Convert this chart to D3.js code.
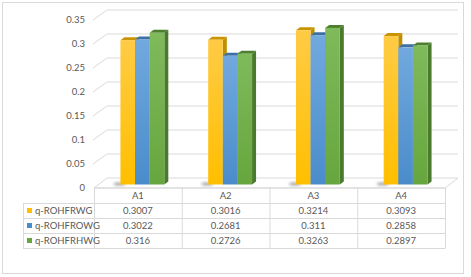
<!DOCTYPE html>
<html><head><meta charset="utf-8">
<script src="https://cdn.jsdelivr.net/npm/d3@7"></script>
<style>body{margin:0;background:#fff}svg{display:block}</style>
</head><body>
<script>
const categories = ["A1","A2","A3","A4"];
const seriesNames = ["q-ROHFRWG","q-ROHFROWG","q-ROHFRHWG"];
const valuesRWG  = [0.3007,0.3016,0.3214,0.3093];
const valuesROWG = [0.3022,0.2681,0.311,0.2858];
const valuesRHWG = [0.316,0.2726,0.3263,0.2897];
const yTicks = [0,0.05,0.1,0.15,0.2,0.25,0.3,0.35];
const yTickLabels = ["0","0.05","0.1","0.15","0.2","0.25","0.3","0.35"];
const seriesValues = [valuesRWG, valuesROWG, valuesRHWG];
const colors = [
  {top:"#FFCB45", bot:"#FFBF00", cap:"#C99400", side:"#C08F00"},
  {top:"#71A9DE", bot:"#4A8CCB", cap:"#3F70A5", side:"#3B6A9A"},
  {top:"#7FBA5B", bot:"#67A63E", cap:"#4E7F2F", side:"#4A7A2C"}
];

const W=471,H=277;
const svg=d3.select("body").append("svg").attr("width",W).attr("height",H);
const defs=svg.append("defs");
colors.forEach((c,i)=>{
  const g=defs.append("linearGradient").attr("id","g"+i).attr("x1",0).attr("y1",0).attr("x2",0).attr("y2",1);
  g.append("stop").attr("offset","0%").attr("stop-color",c.top);
  g.append("stop").attr("offset","100%").attr("stop-color",c.bot);
});
defs.append("filter").attr("id","blur").attr("x","-50%").attr("y","-50%").attr("width","200%").attr("height","200%")
  .append("feGaussianBlur").attr("stdDeviation",1.4);

// outer border
svg.append("rect").attr("x",2.5).attr("y",2.5).attr("width",461).attr("height",271)
  .attr("fill","#fff").attr("stroke","#d9d9d9");

const font="Lato, 'Open Sans', sans-serif";
const txt="#595959", grid="#d9d9d9";
const x0=94, x1=445, yFront=188, dX=13, dY=-10;
const y=d3.scaleLinear().domain([0,0.35]).range([yFront,20]);
const x=d3.scaleBand().domain(categories).range([x0,x1]).paddingInner(0).paddingOuter(0);

// floor
svg.append("path").attr("d",`M${x0},${yFront}L${x0+dX},${yFront+dY}L${x1+dX},${yFront+dY}L${x1},${yFront}Z`)
  .attr("fill","#fff").attr("stroke",grid);

// gridlines back wall + left wall
yTicks.forEach((t,i)=>{
  const yy=y(t);
  if(i>0){
    svg.append("line").attr("x1",x0+dX).attr("x2",x1+dX).attr("y1",yy+dY).attr("y2",yy+dY).attr("stroke",grid);
    svg.append("line").attr("x1",x0-1).attr("x2",x0+dX).attr("y1",yy).attr("y2",yy+dY).attr("stroke",grid);
  }
  svg.append("text").attr("x",85).attr("y",yy).attr("dy","0.35em").attr("text-anchor","end")
    .attr("font-family",font).attr("font-size",9.5).attr("fill",txt).text(yTickLabels[i]);
});

// bars
const bw = x.bandwidth()/6;
const fx=4.5, fy=-3.5, bdx=4, bdy=-3;
categories.forEach((cat,ci)=>{
  const gx=x(cat)+x.bandwidth()/2-1.5*bw+fx;
  const base=yFront+fy;
  // shadow
  svg.append("ellipse").attr("cx",gx-1).attr("cy",base-0.5).attr("rx",6).attr("ry",1.6)
    .attr("fill","#555").attr("opacity",0.55).attr("filter","url(#blur)");
  seriesValues.forEach((vals,si)=>{
    const v=vals[ci];
    const bx=gx+si*bw, top=y(v)+fy, h=base-top;
    const c=colors[si];
    svg.append("path").attr("d",`M${bx+bw},${top}L${bx+bw+bdx},${top+bdy}L${bx+bw+bdx},${base+bdy}L${bx+bw},${base}Z`).attr("fill",c.side);
    svg.append("path").attr("d",`M${bx},${top}L${bx+bdx},${top+bdy}L${bx+bw+bdx},${top+bdy}L${bx+bw},${top}Z`).attr("fill",c.cap);
    svg.append("rect").attr("x",bx).attr("y",top).attr("width",bw).attr("height",h).attr("fill",`url(#g${si})`);
  });
});

// data table
const rowY=[188,203,218,233,248];
const lx=23;
svg.append("line").attr("x1",x0).attr("x2",x1).attr("y1",188).attr("y2",188).attr("stroke",grid);
[203,218,233,248].forEach(yy=>svg.append("line").attr("x1",lx).attr("x2",x1).attr("y1",yy+0.5).attr("y2",yy+0.5).attr("stroke",grid));
svg.append("line").attr("x1",lx+0.5).attr("x2",lx+0.5).attr("y1",203).attr("y2",248.5).attr("stroke",grid);
[...categories.map(c=>x(c)),x1].forEach(xx=>svg.append("line").attr("x1",xx+0.5).attr("x2",xx+0.5).attr("y1",188).attr("y2",248.5).attr("stroke",grid));
categories.forEach(cat=>svg.append("text").attr("x",x(cat)+x.bandwidth()/2).attr("y",196).attr("dy","0.35em")
  .attr("text-anchor","middle").attr("font-family",font).attr("font-size",9.5).attr("fill",txt).text(cat));
seriesNames.forEach((name,si)=>{
  const cy=(rowY[si+1]+rowY[si+2])/2;
  svg.append("rect").attr("x",27).attr("y",cy-2.5).attr("width",5).attr("height",5).attr("fill",colors[si].bot);
  svg.append("text").attr("x",35).attr("y",cy).attr("dy","0.35em").attr("font-family",font).attr("font-size",9.5)
    .attr("fill",txt).text(name);
  categories.forEach((cat,ci)=>svg.append("text").attr("x",x(cat)+x.bandwidth()/2).attr("y",cy).attr("dy","0.35em")
    .attr("text-anchor","middle").attr("font-family",font).attr("font-size",9.5).attr("fill",txt).text(String(seriesValues[si][ci])));
});
</script>
</body></html>
